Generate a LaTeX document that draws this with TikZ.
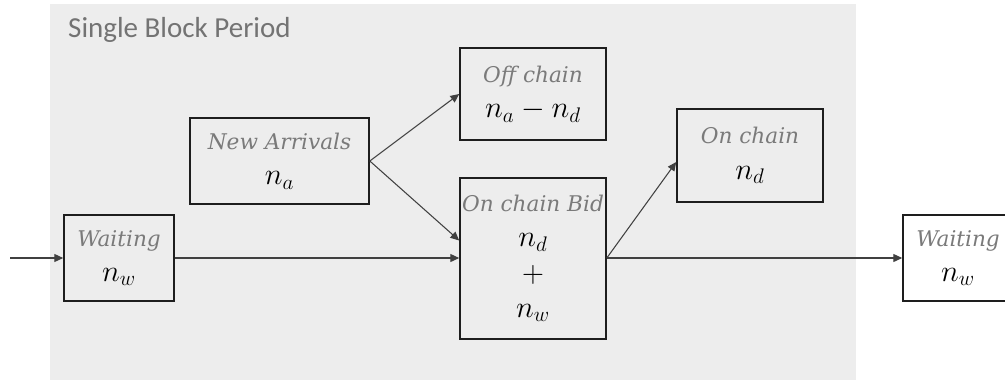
\documentclass[tikz,border=0pt]{standalone}
\usepackage{fontspec}
\usetikzlibrary{arrows.meta}
\newfontfamily\titlefont{Carlito}
\newfontfamily\labelfont{DejaVu Serif}
\definecolor{bggray}{HTML}{EDEDED}
\definecolor{lblgray}{HTML}{7A7A7A}
\definecolor{titlegray}{HTML}{737373}
\definecolor{edgegray}{HTML}{1E1E1E}
\newcommand{\boxlbl}[1]{{\color{lblgray}\labelfont\itshape\fontsize{12.3}{20}\selectfont #1}}
\newcommand{\boxval}[1]{{\fontsize{17.5}{20}\selectfont$#1$}}

\begin{document}
\begin{tikzpicture}[x=0.2mm, y=-0.2mm,
  stage/.style={
    draw=edgegray, line width=0.9pt,
    minimum width=29.2mm,
    minimum height=18.4mm,
    inner sep=1pt,
    align=center,
    font=\fontsize{12}{20}\selectfont
  },
  arr/.style={-{Triangle[length=5pt,width=4.5pt]}, line width=0.6pt, black!75}
]
  \useasboundingbox (0,0) rectangle (1005,380);
  % Block period background
  \fill[bggray] (50,4) rectangle (856,380);
  \node[titlegray, anchor=base west, font=\titlefont\fontsize{16.5}{18}\selectfont]
        (title) at (62,37) {Single Block Period};

  \node[stage, minimum width=22mm, minimum height=17.2mm]   (waitin)  at (119,258)
        {\boxlbl{Waiting}\\ \boxval{n_w}};
  \node[stage, minimum width=35.8mm, minimum height=17.2mm] (arrive)  at (279.5,161)
        {\boxlbl{New Arrivals}\\ \boxval{n_a}};
  \node[stage]                                               (offc)    at (533,94)
        {\boxlbl{Off chain}\\ \boxval{n_a - n_d}};
  \node[stage, minimum height=32.2mm]                        (bid)     at (533,258.5)
        {\boxlbl{On chain Bid}\\ \boxval{n_d}\\ \boxval{+}\\ \boxval{n_w}};
  \node[stage, minimum height=18.6mm]                        (onc)     at (750,155.5)
        {\boxlbl{On chain}\\ \boxval{n_d}};
  \node[stage, fill=white, minimum width=22mm, minimum height=17.2mm] (waitout) at (958,258)
        {\boxlbl{Waiting}\\ \boxval{n_w}};

  \coordinate (start) at (10,258);
  \draw[arr] (start) -- (waitin);
  \draw[arr] (waitin) -- (bid.west |- waitin);
  \draw[arr] (arrive.east) -- (offc.west);
  \draw[arr] (arrive.east) -- ([yshift=3.6mm]bid.west);
  \draw[arr] (bid.east |- waitin) -- ([yshift=-1.3mm]onc.west);
  \draw[arr] (bid.east |- waitin) -- (waitout.west |- waitin);
\end{tikzpicture}
\end{document}
